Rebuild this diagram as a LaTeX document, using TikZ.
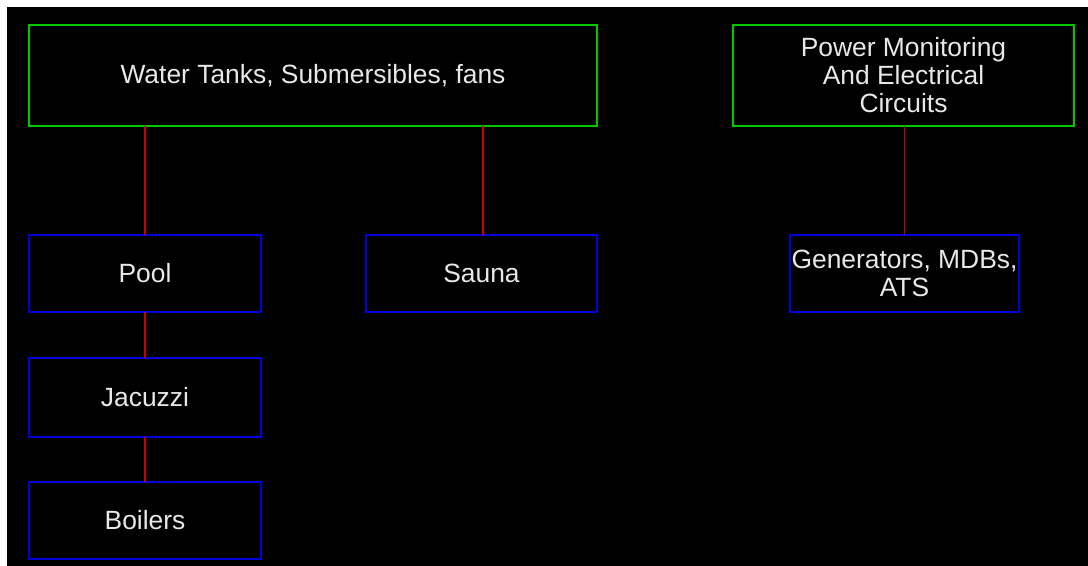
\documentclass[tikz,border=0pt]{standalone}
\usepackage{fontspec}
\setmainfont{Liberation Sans}
\definecolor{boxgreen}{RGB}{0,200,0}
\definecolor{boxblue}{RGB}{0,0,220}
\definecolor{linkred}{RGB}{200,0,0}
\definecolor{txt}{RGB}{232,232,232}
\begin{document}
\begin{tikzpicture}[x=0.75pt,y=-0.75pt,
  base/.style={draw,rectangle,line width=1.5pt*0.75,outer sep=0pt,inner sep=0pt,
    text=txt,align=center,font=\fontsize{19.8}{21}\selectfont},
  gbox/.style={base,draw=boxgreen,minimum height=101*0.75pt},
  bbox/.style={base,draw=boxblue},
  link/.style={draw=linkred,line width=1.5pt*0.75}]
\fill[white] (0,0) rectangle (1088,566);
\fill[black] (7,7) rectangle (1088,566);
\useasboundingbox (0,0) rectangle (1088,566);
\node[gbox,minimum width=568*0.75pt] (water) at (313,75.5) {Water Tanks, Submersibles, fans};
\node[gbox,minimum width=341*0.75pt] (power) at (903.5,75.5) {Power Monitoring\\And Electrical\\Circuits};
\node[bbox,minimum width=232*0.75pt,minimum height=77*0.75pt] (pool) at (145,273.5) {Pool};
\node[bbox,minimum width=231*0.75pt,minimum height=77*0.75pt] (sauna) at (481.5,273.5) {Sauna};
\node[bbox,minimum width=229*0.75pt,minimum height=77*0.75pt] (gen) at (904.5,273.5) {Generators, MDBs,\\ATS};
\node[bbox,minimum width=232*0.75pt,minimum height=79*0.75pt] (jac) at (145,397.5) {Jacuzzi};
\node[bbox,minimum width=232*0.75pt,minimum height=77*0.75pt] (boil) at (145,520.5) {Boilers};
\coordinate (sn) at ([xshift=1.5*0.75pt]sauna.north);
\draw[link] (water.south -| pool.north) -- (pool.north);
\draw[link] (water.south -| sn) -- (sn);
\draw[link] (power.south -| gen.north) -- (gen.north);
\draw[link] (pool.south) -- (jac.north);
\draw[link] (jac.south) -- (boil.north);
\end{tikzpicture}
\end{document}
